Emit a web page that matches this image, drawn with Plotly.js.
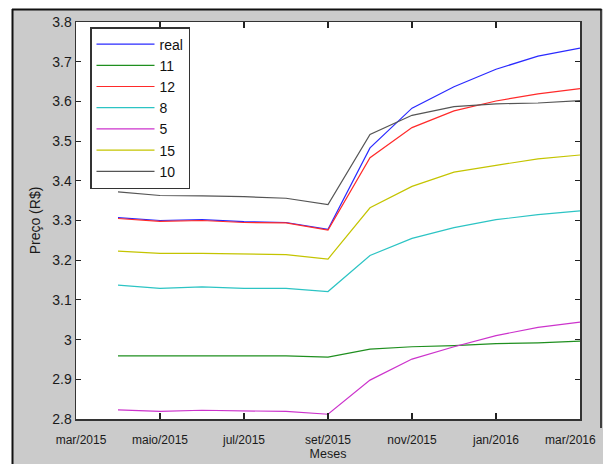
<!DOCTYPE html>
<html>
<head>
<meta charset="utf-8">
<script src="https://cdn.plot.ly/plotly-3.0.1.min.js"></script>
<style>html,body{margin:0;padding:0;background:#fff}#chart{width:603px;height:464px}</style>
</head>
<body>
<div id="chart"></div>
<script>
// Months of the data points (abr/2015 .. mar/2016), as index from mar/2015
var meses = ['abr/2015','mai/2015','jun/2015','jul/2015','ago/2015','set/2015','out/2015','nov/2015','dez/2015','jan/2016','fev/2016','mar/2016'];
var mesIdx = [1,2,3,4,5,6,7,8,9,10,11,12];

var tickPos = [0,2,4,6,8,10,12];
var tickText = ['mar/2015','maio/2015','jul/2015','set/2015','nov/2015','jan/2016','mar/2016'];

var serieNomes = ['real','11','12','8','5','15','10'];
var real = [3.307,3.300,3.302,3.297,3.295,3.278,3.483,3.583,3.637,3.681,3.714,3.734];
var s11  = [2.959,2.959,2.959,2.959,2.959,2.956,2.976,2.982,2.985,2.990,2.992,2.996];
var s12  = [3.305,3.298,3.300,3.295,3.294,3.276,3.458,3.534,3.576,3.601,3.619,3.632];
var s8   = [3.137,3.129,3.133,3.129,3.129,3.121,3.212,3.255,3.282,3.302,3.315,3.324];
var s5   = [2.823,2.819,2.822,2.820,2.819,2.812,2.898,2.951,2.982,3.010,3.031,3.044];
var s15  = [3.223,3.217,3.217,3.215,3.214,3.203,3.332,3.386,3.422,3.439,3.455,3.465];
var s10  = [3.372,3.363,3.362,3.360,3.356,3.340,3.517,3.565,3.587,3.594,3.596,3.602];
var cores = ['#2a2aff','#1f8f1f','#ff2a2a','#2cc4c4','#cc33cc','#c4c400','#555555'];

var series = [real, s11, s12, s8, s5, s15, s10];
var traces = series.map(function (vals, i) {
  return {
    x: mesIdx, y: vals, type: 'scatter', mode: 'lines',
    name: serieNomes[i], text: meses,
    line: {color: cores[i], width: 1.2}
  };
});

// the first label is nudged right; the last one is drawn as a right-aligned annotation
var NB = '\u00a0';
var nT = tickText.length;
var tickShown = tickText.map(function (t, i) {
  if (i === 0) return NB + NB + NB + t;
  if (i === nT - 1) return '';
  return t;
});

var L = 76, R = 580, T = 22, B = 419;
function px(x) { return (x - L) / (R - L); }
function py(y) { return (B - y) / (B - T); }

var sans = '"Liberation Sans", Arial, sans-serif';

var layout = {
  width: 603, height: 464,
  margin: {l: L, r: 603 - R, t: T, b: 464 - B, pad: 0},
  paper_bgcolor: '#cbcbcb',
  plot_bgcolor: '#ffffff',
  showlegend: true,
  legend: {
    x: px(90), y: py(27), xanchor: 'left', yanchor: 'top',
    bgcolor: '#ffffff', bordercolor: '#333333', borderwidth: 1.5,
    font: {family: sans, size: 14, color: '#111111'},
    itemwidth: 58, tracegroupgap: 0
  },
  xaxis: {
    range: [0, 12], tickmode: 'array', tickvals: tickPos, ticktext: tickShown,
    ticks: 'inside', ticklen: 6, tickwidth: 1.2, tickcolor: '#222222',
    showline: true, linecolor: '#333333', linewidth: 1.5, mirror: 'ticks',
    showgrid: false, zeroline: false,
    tickfont: {family: sans, size: 12, color: '#1a1a1a'},
    ticklabelstandoff: 9, ticklabeloverflow: 'allow',
    title: {text: 'Meses', font: {family: sans, size: 12.5, color: '#1a1a1a'}, standoff: 1}
  },
  yaxis: {
    range: [2.8, 3.8], dtick: 0.1, tick0: 2.8,
    ticks: 'inside', ticklen: 5, tickwidth: 1.2, tickcolor: '#222222',
    showline: true, linecolor: '#333333', linewidth: 1.5, mirror: 'ticks',
    showgrid: false, zeroline: false,
    tickfont: {family: sans, size: 14, color: '#1a1a1a'},
    title: {text: 'Preço (R$)', font: {family: sans, size: 14, color: '#1a1a1a'}, standoff: 8}
  },
  annotations: [
    {x: tickPos[nT - 1], xref: 'x', y: 0, yref: 'paper', text: tickText[nT - 1],
     showarrow: false, xanchor: 'right', yanchor: 'top', xshift: 18, yshift: -12,
     font: {family: sans, size: 12, color: '#1a1a1a'}}
  ],
  shapes: [
    {type: 'rect', xref: 'paper', yref: 'paper', x0: px(0), x1: px(12), y0: py(464), y1: py(0), fillcolor: '#ffffff', line: {width: 0}, layer: 'below'},
    {type: 'rect', xref: 'paper', yref: 'paper', x0: px(0), x1: px(603), y0: py(9), y1: py(0), fillcolor: '#ffffff', line: {width: 0}, layer: 'below'},
    {type: 'line', xref: 'paper', yref: 'paper', x0: px(12.5), x1: px(12.5), y0: py(464), y1: py(9), line: {color: '#111111', width: 2}},
    {type: 'line', xref: 'paper', yref: 'paper', x0: px(12), x1: px(601.5), y0: py(9.5), y1: py(9.5), line: {color: '#111111', width: 2}},
    {type: 'line', xref: 'paper', yref: 'paper', x0: px(601), x1: px(601), y0: py(428), y1: py(9), line: {color: '#111111', width: 1.5}}
  ]
};

Plotly.newPlot('chart', traces, layout, {displayModeBar: false, staticPlot: true});
</script>
</body>
</html>
